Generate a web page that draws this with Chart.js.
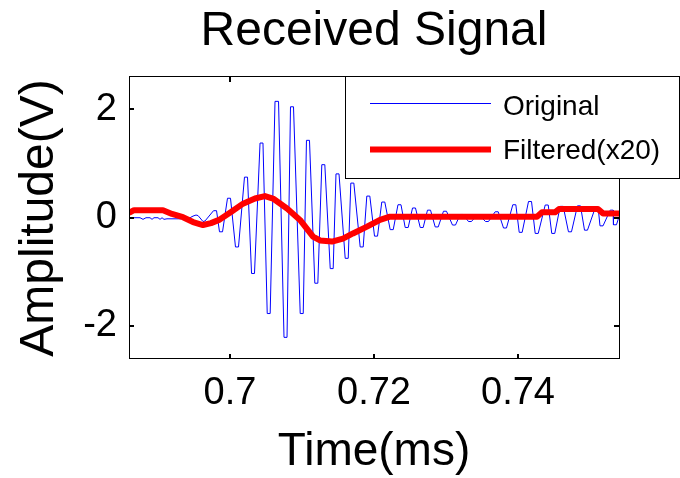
<!DOCTYPE html>
<html><head><meta charset="utf-8">
<script src="https://cdn.jsdelivr.net/npm/chart.js@4/dist/chart.umd.min.js"></script>
<style>html,body{margin:0;padding:0;background:#fff}#wrap{width:680px;height:478px}</style>
</head><body><div id="wrap"><canvas id="c" width="680" height="478"></canvas></div>
<script>
const chartTitle = 'Received Signal';
const xTitle = 'Time(ms)';
const yTitle = 'Amplitude(V)';
const seriesNames = ['Original', 'Filtered(x20)'];
const xRange = [0.68597, 0.75403];
const yRange = [-2.61, 2.60];
const xTicks = [0.70, 0.72, 0.74];
const xTickLabels = ['0.7', '0.72', '0.74'];
const yTicks = [-2, 0, 2];
const yTickLabels = ['-2', '0', '2'];

const timeOriginal = [
 0.68597,0.68750,0.68792,0.68833,0.68889,0.68917,0.68944,0.69000,0.69028,0.69056,
 0.69083,0.69125,0.69417,0.69486,0.69528,0.69556,0.69625,0.69653,
 0.69771,0.69813,0.69854,0.69896,0.69965,0.70007,0.70076,0.70118,0.70201,0.70243,
 0.70299,0.70340,0.70417,0.70458,0.70517,0.70558,0.70625,0.70674,0.70750,0.70792,
 0.70840,0.70882,0.70975,0.71017,0.71062,0.71104,0.71178,0.71220,0.71275,0.71317,
 0.71392,0.71433,0.71472,0.71514,0.71600,0.71642,0.71678,0.71720,0.71808,0.71850,
 0.71900,0.71942,0.72007,0.72049,0.72108,0.72150,0.72225,0.72267,0.72333,0.72375,
 0.72433,0.72475,0.72535,0.72576,0.72642,0.72683,0.72743,0.72785,0.72850,0.72892,
 0.72965,0.73007,0.73090,0.73132,0.73197,0.73239,0.73312,0.73354,0.73423,0.73465,
 0.73549,0.73590,0.73683,0.73725,0.73799,0.73840,0.73928,0.73970,0.74017,0.74058,
 0.74146,0.74188,0.74239,0.74281,0.74378,0.74420,0.74469,0.74511,0.74586,0.74628,
 0.74701,0.74743,0.74826,0.74868,0.74924,0.74965,0.75072,0.75114,0.75139,0.75181,
 0.75281,0.75322,0.75326,0.75368,0.75403
];
const ampOriginal = [
 0.00,0.00,-0.03,0.00,0.00,-0.03,0.00,0.00,-0.03,0.00,
 -0.03,-0.02,-0.02,0.03,0.05,0.04,-0.07,-0.06,
 0.13,0.13,-0.26,-0.26,0.36,0.36,-0.54,-0.54,0.75,0.75,
 -1.03,-1.03,1.38,1.38,-1.77,-1.77,2.15,2.15,-2.21,-2.21,
 2.05,2.05,-1.77,-1.77,1.43,1.43,-1.21,-1.21,0.98,0.98,
 -0.94,-0.94,0.81,0.81,-0.75,-0.75,0.64,0.64,-0.54,-0.54,
 0.40,0.40,-0.34,-0.34,0.29,0.29,-0.22,-0.22,0.24,0.24,
 -0.18,-0.18,0.18,0.18,-0.18,-0.18,0.14,0.14,-0.17,-0.17,
 0.12,0.12,-0.135,-0.135,0.06,0.06,-0.07,-0.07,0.04,0.04,
 -0.07,-0.07,0.11,0.11,-0.19,-0.19,0.24,0.24,-0.27,-0.27,
 0.30,0.30,-0.29,-0.29,0.235,0.235,-0.29,-0.29,0.21,0.21,
 -0.26,-0.26,0.22,0.22,-0.23,-0.23,0.18,0.18,-0.15,-0.15,
 0.14,0.14,-0.13,-0.13,0.02
];
const timeFiltered = [
 0.68597,0.68667,0.69069,0.69194,0.69347,0.69486,0.69625,0.69736,0.69847,0.70014,
 0.70181,0.70347,0.70486,0.70597,0.70792,0.70972,0.71153,0.71250,0.71417,0.71569,
 0.71708,0.71903,0.72083,0.72222,0.74264,0.74333,0.74514,0.74569,0.75111,0.75181,
 0.75403
];
const ampFiltered = [
 0.09,0.14,0.14,0.07,0.01,-0.08,-0.135,-0.10,-0.04,0.105,
 0.26,0.355,0.40,0.355,0.17,-0.04,-0.35,-0.42,-0.44,-0.385,
 -0.29,-0.165,-0.04,0.02,0.02,0.10,0.10,0.16,0.16,0.08,
 0.08
];

const FONT = '"Liberation Sans", Arial, Helvetica, sans-serif';
const BLUE = '#0000ff';
const RED = '#ff0000';

const framePlugin = {
  id: 'frame',
  afterDatasetsDraw(chart) {
    const a = chart.chartArea, ctx = chart.ctx;
    ctx.save();
    ctx.strokeStyle = '#000';
    ctx.lineWidth = 1;
    ctx.strokeRect(Math.round(a.left) + 0.5, Math.round(a.top) - 0.5, Math.round(a.right - a.left), Math.round(a.bottom - a.top));
    ctx.lineWidth = 2;
    ctx.beginPath();
    const xs = chart.scales.x, ys = chart.scales.y, L = 5;
    xs.ticks.forEach(t => {
      const p = Math.round(xs.getPixelForValue(t.value));
      ctx.moveTo(p, a.bottom); ctx.lineTo(p, a.bottom - L);
      ctx.moveTo(p, a.top); ctx.lineTo(p, a.top + L);
    });
    ys.ticks.forEach(t => {
      const p = Math.round(ys.getPixelForValue(t.value));
      ctx.moveTo(a.left, p); ctx.lineTo(a.left + L, p);
      ctx.moveTo(a.right, p); ctx.lineTo(a.right - L, p);
    });
    ctx.stroke();
    ctx.restore();
  }
};

const legendPlugin = {
  id: 'boxLegend',
  afterDraw(chart) {
    const ctx = chart.ctx, a = chart.chartArea;
    const bx = 345.5, by = Math.round(a.top) - 0.5, bw = 334, bh = 102;
    ctx.save();
    ctx.fillStyle = '#fff';
    ctx.fillRect(bx, by, bw, bh);
    ctx.strokeStyle = '#000';
    ctx.lineWidth = 1;
    ctx.strokeRect(bx, by, bw, bh);
    const rows = [103.5, 149.5];
    const textY = [107, 151.5];
    chart.data.datasets.forEach((ds, i) => {
      ctx.beginPath();
      ctx.strokeStyle = ds.borderColor;
      ctx.lineWidth = ds.borderWidth;
      ctx.moveTo(370, rows[i]); ctx.lineTo(491, rows[i]);
      ctx.stroke();
      ctx.fillStyle = '#000';
      ctx.font = '28px ' + FONT;
      ctx.textBaseline = 'middle';
      ctx.textAlign = 'left';
      ctx.fillText(ds.label, 503, textY[i]);
    });
    ctx.restore();
  }
};

function zeroPad(s) { s.paddingLeft = 0; s.paddingRight = 0; s.paddingTop = 0; s.paddingBottom = 0; }

new Chart(document.getElementById('c'), {
  type: 'line',
  data: {
    datasets: [
      {
        label: seriesNames[0],
        data: timeOriginal.map((t, i) => ({x: t, y: ampOriginal[i]})),
        borderColor: BLUE, borderWidth: 1, pointRadius: 0, tension: 0, fill: false, order: 1
      },
      {
        label: seriesNames[1],
        data: timeFiltered.map((t, i) => ({x: t, y: ampFiltered[i]})),
        borderColor: RED, borderWidth: 6, pointRadius: 0, tension: 0, fill: false, order: 0,
        borderJoinStyle: 'round', borderCapStyle: 'butt'
      }
    ]
  },
  options: {
    responsive: false,
    devicePixelRatio: 1,
    animation: false,
    layout: { padding: { left: 0, right: 61, top: 0, bottom: 0 } },
    plugins: {
      legend: { display: false },
      tooltip: { enabled: false },
      title: {
        display: true, text: chartTitle, color: '#000', fullSize: false,
        font: { family: FONT, size: 48, weight: 'normal', lineHeight: 1.2 },
        padding: { top: 3, bottom: 16.4 }
      }
    },
    scales: {
      x: {
        type: 'linear', min: xRange[0], max: xRange[1],
        afterBuildTicks: s => { s.ticks = xTicks.map(v => ({ value: v })); },
        afterFit: s => { s.height = 119; zeroPad(s); },
        grid: { display: false, drawTicks: false },
        border: { display: false },
        ticks: {
          color: '#000', padding: 12, maxRotation: 0, autoSkip: false,
          font: { family: FONT, size: 38 },
          callback: v => xTickLabels[xTicks.indexOf(v)]
        },
        title: {
          display: true, text: xTitle, color: '#000',
          font: { family: FONT, size: 46, lineHeight: 1 },
          padding: { top: 0, bottom: 3 }
        }
      },
      y: {
        type: 'linear', min: yRange[0], max: yRange[1],
        afterBuildTicks: s => { s.ticks = yTicks.map(v => ({ value: v })); },
        afterFit: s => { s.width = 129; zeroPad(s); },
        grid: { display: false, drawTicks: false },
        border: { display: false },
        ticks: {
          color: '#000', padding: 12, autoSkip: false,
          font: { family: FONT, size: 38 },
          callback: v => yTickLabels[yTicks.indexOf(v)]
        },
        title: {
          display: true, text: yTitle, color: '#000',
          font: { family: FONT, size: 48, lineHeight: 1 },
          padding: { top: 16, bottom: 0 }
        }
      }
    }
  },
  plugins: [framePlugin, legendPlugin]
});
</script>
</body></html>
